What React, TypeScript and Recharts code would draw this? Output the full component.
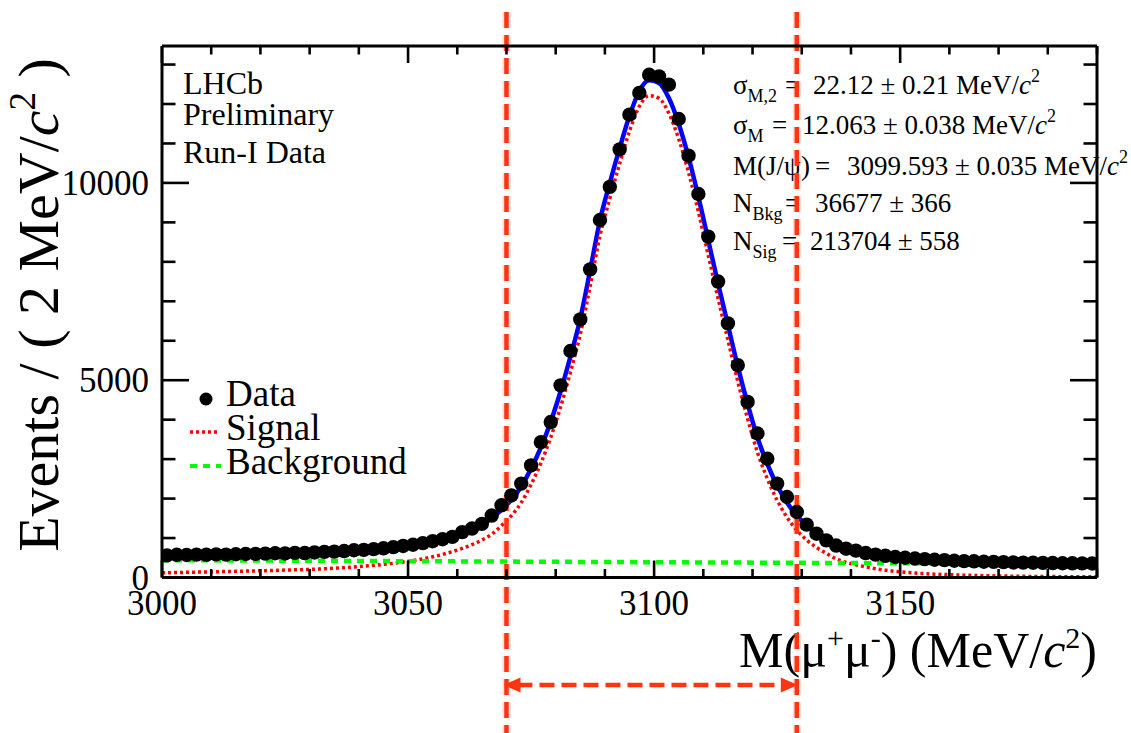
import React from 'react';
import { ComposedChart, Line, XAxis, YAxis, ReferenceLine } from 'recharts';

// ---------- data ----------
const binCenters = [
  3001, 3003, 3005, 3007, 3009, 3011, 3013, 3015, 3017, 3019,
  3021, 3023, 3025, 3027, 3029, 3031, 3033, 3035, 3037, 3039,
  3041, 3043, 3045, 3047, 3049, 3051, 3053, 3055, 3057, 3059,
  3061, 3063, 3065, 3067, 3069, 3071, 3073, 3075, 3077, 3079,
  3081, 3083, 3085, 3087, 3089, 3091, 3093, 3095, 3097, 3099,
  3101, 3103, 3105, 3107, 3109, 3111, 3113, 3115, 3117, 3119,
  3121, 3123, 3125, 3127, 3129, 3131, 3133, 3135, 3137, 3139,
  3141, 3143, 3145, 3147, 3149, 3151, 3153, 3155, 3157, 3159,
  3161, 3163, 3165, 3167, 3169, 3171, 3173, 3175, 3177, 3179,
  3181, 3183, 3185, 3187, 3189,
];

const dataCounts = [
  560, 575, 570, 580, 575, 585, 580, 590, 595, 600,
  605, 615, 610, 625, 620, 635, 650, 655, 670, 690,
  700, 720, 740, 770, 800, 830, 870, 920, 970, 1030,
  1150, 1240, 1360, 1570, 1830, 2080, 2380, 2840, 3430, 3940,
  4870, 5740, 6540, 7810, 9060, 9900, 10850, 11730, 12280, 12740,
  12700, 12490, 11620, 10690, 9720, 8640, 7500, 6440, 5380, 4450,
  3650, 3010, 2380, 2040, 1660, 1340, 1110, 940, 810, 730,
  680, 620, 580, 550, 520, 500, 480, 465, 450, 440,
  425, 415, 410, 400, 395, 390, 382, 378, 374, 370,
  366, 362, 360, 357, 355,
];

// fit curves are sampled at the histogram edges plus every bin centre
const curveMass = [3000, ...binCenters, 3190];

const fitCounts = [
  558,
  560, 564, 568, 572, 576, 580, 584, 588, 593, 598,
  603, 608, 614, 620, 627, 635, 645, 657, 671, 687,
  705, 725, 748, 775, 806, 842, 885, 935, 995, 1065,
  1145, 1240, 1355, 1500, 1720, 1970, 2300, 2760, 3300, 3950,
  4720, 5600, 6560, 7780, 9050, 10000, 10880, 11700, 12330, 12600,
  12530, 12150, 11500, 10650, 9650, 8550, 7450, 6400, 5350, 4400,
  3550, 2880, 2330, 1900, 1570, 1320, 1130, 980, 840, 750,
  690, 635, 588, 550, 520, 496, 476, 460, 446, 433,
  422, 413, 405, 398, 392, 387, 382, 378, 374, 371,
  368, 365, 362, 360, 358,
  357,
];

const signalCounts = [
  118,
  120, 126, 131, 136, 141, 146, 151, 156, 162, 168,
  174, 180, 187, 194, 202, 211, 222, 235, 250, 267,
  287, 308, 332, 360, 392, 429, 473, 524, 585, 656,
  737, 833, 949, 1095, 1316, 1567, 1898, 2359, 2900, 3552,
  4323, 5204, 6165, 7386, 8657, 9608, 10489, 11310, 11941, 12212,
  12143, 11764, 11115, 10266, 9267, 8168, 7069, 6020, 4971, 4022,
  3174, 2505, 1956, 1527, 1198, 949, 760, 611, 472, 383,
  324, 270, 223, 186, 155, 131, 112, 97, 84, 77,
  67, 59, 52, 46, 41, 37, 33, 30, 27, 25,
  23, 21, 19, 18, 17,
  17,
];

const bgMass = [3000, 3190];
const bgCounts = [440, 340];

const xTicks = [3000, 3010, 3020, 3030, 3040, 3050, 3060, 3070, 3080, 3090, 3100, 3110, 3120, 3130, 3140, 3150, 3160, 3170, 3180, 3190];
const xLabels = [3000, 3050, 3100, 3150];
const yTicks = [0, 1000, 2000, 3000, 4000, 5000, 6000, 7000, 8000, 9000, 10000, 11000, 12000, 13000];
const yLabels = [0, 5000, 10000];
const xDomain = [3000, 3190];
const yDomain = [0, 13470];
const massWindow = [3070, 3129];

const dataRows = binCenters.map((m, i) => ({ m, y: dataCounts[i] }));
const fitRows = curveMass.map((m, i) => ({ m, fit: fitCounts[i], sig: signalCounts[i] }));
const bgRows = bgMass.map((m, i) => ({ m, bg: bgCounts[i] }));

// ---------- styling ----------
const FONT = "'Liberation Serif', 'Times New Roman', Times, serif";
const AX = { stroke: '#000', strokeWidth: 3 };
const RED = '#ff3512';
const serif = (size: number, extra: any = {}) => ({ fontFamily: FONT, fontSize: size, ...extra });

const isMajorX = (v: number) => xLabels.includes(v);
const isMajorY = (v: number) => yLabels.includes(v);

const BottomTick = (p: any) => {
  const v = p.payload.value;
  const major = v % 50 === 0;
  return (
    <g>
      <line x1={p.x} x2={p.x} y1={p.y} y2={p.y - (major ? 17 : 8.5)} stroke="#000" strokeWidth={2.6} />
      {isMajorX(v) && (
        <text x={p.x} y={p.y + 37} textAnchor="middle" fill="#000" style={serif(35)}>
          {v}
        </text>
      )}
    </g>
  );
};

const TopTick = (p: any) => {
  const v = p.payload.value;
  const major = v % 50 === 0;
  return <line x1={p.x} x2={p.x} y1={p.y} y2={p.y + (major ? 17 : 8.5)} stroke="#000" strokeWidth={2.6} />;
};

const LeftTick = (p: any) => {
  const v = p.payload.value;
  const major = v % 5000 === 0;
  return (
    <g>
      <line x1={p.x} x2={p.x + (major ? 27 : 13.5)} y1={p.y} y2={p.y} stroke="#000" strokeWidth={2.6} />
      {isMajorY(v) && (
        <text x={p.x - 13} y={p.y + 12} textAnchor="end" fill="#000" style={serif(35)}>
          {v}
        </text>
      )}
    </g>
  );
};

const RightTick = (p: any) => {
  const v = p.payload.value;
  const major = v % 5000 === 0;
  return <line x1={p.x} x2={p.x - (major ? 27 : 13.5)} y1={p.y} y2={p.y} stroke="#000" strokeWidth={2.6} />;
};

const WindowEdge = (p: any) => (
  <g>
    <line x1={p.x1} x2={p.x1} y1={12} y2={733} stroke={RED} strokeOpacity={0.18} strokeWidth={8} strokeDasharray="16 7" />
    <line x1={p.x1} x2={p.x1} y1={12} y2={733} stroke={RED} strokeWidth={4.5} strokeDasharray="16 7" />
  </g>
);

const WindowArrow = (p: any) => {
  const y = 685;
  const a = p.x1 - 3;
  const b = p.x2 + 1;
  return (
    <g>
      <line x1={a + 14} x2={b - 14} y1={y} y2={y} stroke={RED} strokeWidth={4.5} strokeDasharray="15 7" />
      <polygon points={`${a},${y} ${a + 17},${y - 7.5} ${a + 17},${y + 7.5}`} fill={RED} />
      <polygon points={`${b},${y} ${b - 17},${y - 7.5} ${b - 17},${y + 7.5}`} fill={RED} />
    </g>
  );
};

const DataDot = (p: any) => <circle key={p.key ?? p.index} cx={p.cx} cy={p.cy} r={7.2} fill="#000" stroke="none" />;

const StatLine = ({ y, main, sub, eqX, valX, value, unit }: any) => (
  <g fill="#000">
    <text x={733} y={y} style={serif(27)}>
      {main}
      {sub && (
        <tspan dy={8} style={serif(18)}>
          {sub}
        </tspan>
      )}
    </text>
    <text x={eqX} y={y} style={serif(27)}>=</text>
    <text x={valX} y={y} style={serif(27)}>
      {value}
      {unit && (
        <>
          {' MeV/'}
          <tspan style={serif(27, { fontStyle: 'italic' })}>c</tspan>
          <tspan dy={-12} style={serif(18)}>2</tspan>
        </>
      )}
    </text>
  </g>
);

export default function App() {
  return (
    <div style={{ position: 'relative', width: 1131, height: 733, background: '#fff', overflow: 'hidden' }}>
      <style>{`html,body{margin:0;padding:0;overflow:hidden;background:#fff}`}</style>
      <svg width={1131} height={733} style={{ position: 'absolute', left: 0, top: 0 }}>
        {/* axis titles */}
        <text transform="rotate(-90)" x={-305} y={58} textAnchor="middle" fill="#000" style={serif(58)}>
          Events / ( 2 MeV/<tspan style={serif(58, { fontStyle: 'italic' })}>c</tspan>
          <tspan dy={-23} style={serif(37)}>2</tspan>
          <tspan dy={23}> )</tspan>
        </text>
        <text x={1097} y={667} textAnchor="end" fill="#000" style={serif(50)}>
          M(μ<tspan dy={-19} style={serif(30)}>+</tspan>
          <tspan dy={19}>μ</tspan>
          <tspan dy={-19} style={serif(30)}>-</tspan>
          <tspan dy={19}>) (MeV/</tspan>
          <tspan style={serif(50, { fontStyle: 'italic' })}>c</tspan>
          <tspan dy={-19} style={serif(30)}>2</tspan>
          <tspan dy={19}>)</tspan>
        </text>

        {/* LHCb label */}
        <text x={183} y={94} fill="#000" style={serif(32)}>LHCb</text>
        <text x={183} y={125} fill="#000" style={serif(32)}>Preliminary</text>
        <text x={183} y={163} fill="#000" style={serif(32)}>Run-I Data</text>

        {/* fit results */}
        <StatLine y={93.5} main="σ" sub="M,2" eqX={785} valX={813} value="22.12 ± 0.21" unit />
        <StatLine y={134} main="σ" sub="M" eqX={772} valX={802} value="12.063 ± 0.038" unit />
        <StatLine y={175} main="M(J/ψ)" eqX={815} valX={847} value="3099.593 ± 0.035" unit />
        <StatLine y={212} main="N" sub="Bkg" eqX={785} valX={815} value="36677 ± 366" />
        <StatLine y={250} main="N" sub="Sig" eqX={782} valX={810} value="213704 ± 558" />

        {/* legend */}
        <circle cx={206} cy={399} r={6.5} fill="#000" />
        <text x={226} y={406} fill="#000" style={serif(37)}>Data</text>
        <line x1={190} x2={220} y1={432} y2={432} stroke="#ff0000" strokeWidth={3.5} strokeDasharray="3 3" />
        <text x={226} y={440} fill="#000" style={serif(37)}>Signal</text>
        <line x1={190} x2={221} y1={466} y2={466} stroke="#00ff00" strokeWidth={4} strokeDasharray="7 6" />
        <text x={226} y={474} fill="#000" style={serif(37)}>Background</text>
      </svg>

      <div style={{ position: 'absolute', left: 0, top: 0 }}>
        <ComposedChart width={1131} height={733} margin={{ top: 45, right: 33, bottom: 154.5, left: 161 }}>
          <XAxis
            dataKey="m"
            type="number"
            domain={xDomain}
            ticks={xTicks}
            interval={0}
            height={1}
            tickSize={0}
            tickMargin={0}
            tickLine={false}
            axisLine={AX}
            tick={BottomTick}
            allowDataOverflow
          />
          <XAxis
            xAxisId="top"
            orientation="top"
            dataKey="m"
            type="number"
            domain={xDomain}
            ticks={xTicks}
            interval={0}
            height={1}
            tickSize={0}
            tickMargin={0}
            tickLine={false}
            axisLine={AX}
            tick={TopTick}
            allowDataOverflow
          />
          <YAxis
            type="number"
            domain={yDomain}
            ticks={yTicks}
            interval={0}
            width={1}
            tickSize={0}
            tickMargin={0}
            tickLine={false}
            axisLine={AX}
            tick={LeftTick}
            allowDataOverflow
          />
          <YAxis
            yAxisId="right"
            orientation="right"
            type="number"
            domain={yDomain}
            ticks={yTicks}
            interval={0}
            width={1}
            tickSize={0}
            tickMargin={0}
            tickLine={false}
            axisLine={AX}
            tick={RightTick}
            allowDataOverflow
          />

          <Line
            data={dataRows}
            dataKey="y"
            stroke="none"
            strokeWidth={0}
            dot={DataDot}
            activeDot={false}
            isAnimationActive={false}
          />
          <Line
            data={fitRows}
            dataKey="fit"
            type="monotone"
            stroke="#0000ff"
            strokeWidth={4.5}
            dot={false}
            activeDot={false}
            isAnimationActive={false}
          />
          <Line
            data={fitRows}
            dataKey="sig"
            type="monotone"
            stroke="#ff0000"
            strokeWidth={3.5}
            strokeDasharray="3 3"
            dot={false}
            activeDot={false}
            isAnimationActive={false}
          />
          <Line
            data={bgRows}
            dataKey="bg"
            type="linear"
            stroke="#00ff00"
            strokeWidth={4.5}
            strokeDasharray="7 6"
            dot={false}
            activeDot={false}
            isAnimationActive={false}
          />

          <ReferenceLine x={massWindow[0]} ifOverflow="visible" shape={WindowEdge} />
          <ReferenceLine x={massWindow[1]} ifOverflow="visible" shape={WindowEdge} />
          <ReferenceLine
            segment={[
              { x: massWindow[0], y: 0 },
              { x: massWindow[1], y: 0 },
            ]}
            ifOverflow="visible"
            shape={WindowArrow}
          />
        </ComposedChart>
      </div>
    </div>
  );
}
